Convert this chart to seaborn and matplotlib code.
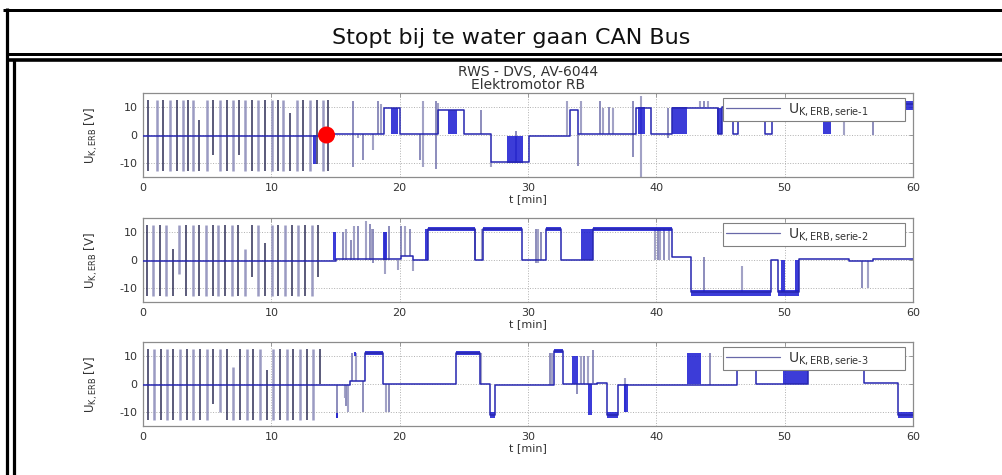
import numpy as np
import pandas as pd
import seaborn as sns
import matplotlib.pyplot as plt
from matplotlib.lines import Line2D

# ---------------- data ----------------
x_ticks = [0, 10, 20, 30, 40, 50, 60]
y_ticks = [-10, 0, 10]
series_names = ["1", "2", "3"]

# --- serie-1 ---
s1_early_t = [0.42, 1.07, 1.58, 2.10, 2.62, 3.14, 3.53, 3.92, 4.39, 4.96, 5.48, 6.00, 6.52, 7.04, 7.51,
              7.95, 8.47, 8.99, 9.51, 10.03, 10.55, 10.94, 11.46, 11.98, 12.49, 13.02, 13.54, 14.05, 14.44]
s1_early_hi = [12.5, 12.5, 12.5, 12.5, 12.5, 12.5, 12.5, 12.5, 5.5, 12.5, 12.5, 12.5, 12.5, 12.5, 12.5,
               12.5, 12.5, 12.5, 12.5, 12.5, 12.5, 12.5, 8.0, 12.5, 12.5, 12.5, 12.5, 12.5, 12.5]
s1_early_lo = [-13, -13, -13, -13, -13, -13, -13, -13, -13, -13, -7, -13, -13, -13, -7,
               -13, -13, -13, -13, -13, -13, -13, -13, -13, -13, -13, -10.5, -13, -13]
s1_level_t = [0, 14.4, 18.8, 20.0, 23.0, 25.0, 27.14, 30.05, 33.25, 33.9, 38.4, 39.6, 41.2, 44.8, 45.1,
              46.0, 46.4, 48.5, 49.0, 59.3, 60]
s1_level_v = [-0.4, 0.5, 9.8, 0.3, 9.0, 0.3, -9.5, -0.3, 9.0, 0.3, 9.5, 0.3, 9.7, 0.3, 10,
              0.3, 10, 0.3, 10, 11, 11]
s1_spike_t = [16.36, 16.75, 17.14, 17.92, 18.31, 18.57, 21.56, 21.82, 22.86, 22.99, 26.36, 27.14, 29.1,
              33.0, 33.9, 34.16, 35.58, 35.84, 36.3, 36.62, 38.2, 38.83, 40.9, 43.4, 43.7, 44.0,
              51.5, 52.4, 53.9, 54.6, 56.9]
s1_spike_hi = [12, 0.5, 0.5, 0.5, 12, 11, 0.3, 12, 12, 11.5, 9, -9.5, 1.5,
               12, 0.3, 12, 12, 9.5, 10, 9.5, 12, 14, 9.6, 12, 12, 12,
               10, 10, 10, 10, 10]
s1_spike_lo = [-11.5, -1, -9, -5.5, 0.5, 0.5, -9, -11.5, -12, 0.3, 0.3, -11.5, -10,
               0, -11, 0.3, 0.3, 0.3, 0.3, 0.3, -8, -15, -1.2, 10, 10, 10,
               6.5, 6.5, 6.5, 0, 0]
s1_band_t0 = [13.25, 19.3, 23.8, 28.4, 38.57, 41.2, 44.7, 53.0, 59.3]
s1_band_t1 = [13.45, 19.9, 24.5, 29.6, 39.1, 42.4, 45.1, 53.6, 60.0]
s1_band_lo = [-10.5, 0.3, 0.3, -10, 0.3, 0.3, 0.3, 0.3, 9]
s1_band_hi = [0, 9.8, 9, -0.5, 10, 10, 9.5, 10, 12]
marker_t = [14.3]
marker_u = [0]

# --- serie-2 ---
s2_early_t = [0.29, 0.81, 1.33, 1.79, 2.31, 2.83, 3.35, 3.87, 4.39, 4.91, 5.43, 5.87, 6.39, 6.91,
              7.43, 7.95, 8.47, 8.99, 9.51, 10.03, 10.55, 11.07, 11.59, 12.11, 12.63, 13.15, 13.67]
s2_early_hi = [12.5, 12.5, 12.5, 12.5, 4, 12.5, 12.5, 12.5, 12.5, 12.5, 12.5, 12.5, 12.5, 12.5,
               12.5, 4, 12.5, 12.5, 6, 12.5, 12.5, 12.5, 12.5, 12.5, 12.5, 12.5, 12.5]
s2_early_lo = [-13, -13, -13, -13, -13, -5, -13, -13, -13, -13, -13, -13, -13, -13,
               -13, -13, -6, -13, -13, -13, -13, -13, -13, -13, -13, -13, -6]
s2_level_t = [0, 15.06, 20.1, 21.0, 22.2, 25.84, 26.5, 29.5, 31.4, 32.6, 35.06, 41.2, 42.7, 48.9,
              49.5, 51.1, 55.0, 56.9, 60]
s2_level_v = [-0.4, 0.2, 1.5, 0, 11, 0, 11, 0, 11, 0, 11, 1, -11.6, 0,
              -11.6, 0.3, -0.3, 0.3, 0.3]
s2_spike_t = [15.58, 15.84, 16.2, 16.45, 16.75, 17.4, 17.66, 17.8, 17.9, 18.83, 19.2, 19.87, 20.13,
              20.4, 20.8, 21.04, 25.9, 26.4, 30.6, 30.8, 31.0, 39.9, 40.1, 40.3, 40.6, 41.0,
              43.7, 46.7, 56.0, 56.5]
s2_spike_hi = [10, 11, 7, 12, 12, 14, 13, 11, 11, 10, 12, 0, 12,
               12, 11, 0, 11, 11, 11, 11, 10, 11, 11, 11, 11, 11,
               1, -2, -0.3, -0.3]
s2_spike_lo = [0, 0, 0, 0, 0, 0, 0, 0, -1, -5, 0, -3.5, 1.5,
               1.5, 1.5, -4, 0, 0, -1, -1, 0, 0, 0, 0, 0, 0,
               -11.6, -11.6, -10, -10]
s2_band_t0 = [14.8, 18.7, 21.95, 22.2, 26.5, 31.4, 34.15, 35.06, 42.7, 49.5, 49.7, 50.8]
s2_band_t1 = [15.06, 19.04, 22.2, 25.84, 29.5, 32.6, 35.06, 41.2, 48.9, 51.1, 50.0, 51.1]
s2_band_lo = [0, 0, 0, 10.3, 10.3, 10.3, 0, 10.3, -12.9, -12.9, -11.6, -11.6]
s2_band_hi = [10, 10, 11, 11.9, 11.9, 11.9, 11, 11.9, -10.7, -10.7, 0, 0]

# --- serie-3 ---
s3_early_t = [0.36, 0.86, 1.38, 1.84, 2.36, 2.88, 3.40, 3.92, 4.44, 4.96, 5.48, 6.00, 6.52, 7.04,
              7.56, 8.08, 8.60, 9.12, 9.64, 10.16, 10.68, 11.20, 11.72, 12.24, 12.76, 13.28, 13.80]
s3_early_hi = [12.5, 12.5, 12.5, 12.5, 12.5, 12.5, 12.5, 12.5, 12.5, 12.5, 12.5, 12.5, 12.5, 6,
               12.5, 12.5, 12.5, 12.5, 5, 12.5, 12.5, 12.5, 12.5, 12.5, 12.5, 12.5, 12.5]
s3_early_lo = [-13, -13, -13, -13, -13, -13, -13, -13, -13, -13, -7, -10, -13, -13,
               -13, -13, -13, -13, -13, -13, -13, -13, -13, -13, -13, -13, 0]
s3_level_t = [0, 16.1, 17.27, 18.7, 24.4, 26.23, 27.0, 27.4, 32.0, 32.76, 35.4, 36.14, 37.05, 46.3,
              47.8, 51.8, 56.15, 58.87, 60]
s3_level_v = [-0.4, 1, 11, 0, 11, 0, -11, -0.3, 11.8, 0, 0.5, -11, -0.3, 10,
              0, 10, 0.5, -11, -11]
s3_spike_t = [15.1, 15.74, 15.84, 16.0, 16.3, 16.6, 17.14, 18.96, 19.2, 26.36, 31.7, 31.9, 33.8,
              34.1, 34.4, 34.7, 35.1, 37.57, 44.2]
s3_spike_hi = [-0.4, -0.4, -0.4, -0.4, 11, 11, 1, 0, 0, 11, 11, 11, 0,
               10, 10, 10, 12, 2, 11]
s3_spike_lo = [-12, -5, -8, -10, 1, 1, -10, -10, -10, 0, -0.3, -0.3, -3.5,
               0, 0, 0, 0.5, -10, -0.3]
s3_band_t0 = [15.0, 16.45, 17.27, 24.4, 27.0, 32.0, 33.4, 34.7, 36.14, 37.5, 42.4, 49.9, 58.87]
s3_band_t1 = [15.2, 16.6, 18.7, 26.23, 27.4, 32.76, 33.9, 34.97, 37.05, 37.8, 43.5, 51.8, 60.0]
s3_band_lo = [-12, 10, 10.2, 10.2, -12, 11, 0, -11, -12, -10, 0, 0, -12]
s3_band_hi = [-10.5, 11.5, 11.8, 11.8, -10, 12.6, 10, 0, -10, 0, 11, 10, -10]

series = [
    (s1_early_t, s1_early_hi, s1_early_lo, s1_level_t, s1_level_v, s1_spike_t, s1_spike_hi, s1_spike_lo,
     s1_band_t0, s1_band_t1, s1_band_lo, s1_band_hi),
    (s2_early_t, s2_early_hi, s2_early_lo, s2_level_t, s2_level_v, s2_spike_t, s2_spike_hi, s2_spike_lo,
     s2_band_t0, s2_band_t1, s2_band_lo, s2_band_hi),
    (s3_early_t, s3_early_hi, s3_early_lo, s3_level_t, s3_level_v, s3_spike_t, s3_spike_hi, s3_spike_lo,
     s3_band_t0, s3_band_t1, s3_band_lo, s3_band_hi),
]

# ---------------- style ----------------
sns.set_theme(style="white")
plt.rcParams['font.family'] = ['DejaVu Sans']
plt.rcParams['axes.unicode_minus'] = False
plt.rcParams['mathtext.fontset'] = 'custom'
plt.rcParams['mathtext.rm'] = 'DejaVu Sans'

W, H = 1002, 475
fig = plt.figure(figsize=(W / 100, H / 100), dpi=100)
fig.patch.set_facecolor('white')

def fx(px):
    return px / W

def fy(py):
    return 1 - py / H

# page frame (table borders)
frame = [
    ((3, W), (9.5, 9.5), 3.0),
    ((6.5, 6.5), (8, H), 3.2),
    ((6.5, W), (53.5, 53.5), 3.0),
    ((6.5, W), (60.3, 60.3), 3.6),
    ((13.5, 13.5), (58.5, H), 3.2),
]
for xs, ys, lw in frame:
    fig.add_artist(Line2D([fx(v) for v in xs], [fy(v) for v in ys], transform=fig.transFigure,
                          color='black', lw=lw * 0.72, solid_capstyle='butt'))

fig.text(fx(511), fy(38.5), "Stopt bij te water gaan CAN Bus", ha='center', va='center',
         fontsize=16, family='DejaVu Sans', color='#111111')

ax_tops = [93, 218, 342]
ax_h = 84
ax_left, ax_right = 143, 913

line_col = '#2626b0'
band_col = '#1a1ad2'
dark_spk = '#1c1c48'
light_spk = '#9090bc'
text_col = '#333333'

axes = []
for k, (top, data, name) in enumerate(zip(ax_tops, series, series_names)):
    (e_t, e_hi, e_lo, l_t, l_v, s_t, s_hi, s_lo, b_t0, b_t1, b_lo, b_hi) = data
    ax = fig.add_axes([fx(ax_left), fy(top + ax_h), fx(ax_right - ax_left), ax_h / H])
    axes.append(ax)
    ax.set_facecolor('white')

    # periodic switching spikes (first ~14 min)
    e_t = np.asarray(e_t)
    dark = np.arange(len(e_t)) % 2 == 0
    ax.vlines(e_t[dark], np.asarray(e_lo)[dark], np.asarray(e_hi)[dark], colors=dark_spk, lw=1.2, alpha=0.85, zorder=2)
    ax.vlines(e_t[~dark], np.asarray(e_lo)[~dark], np.asarray(e_hi)[~dark], colors=light_spk, lw=1.8, alpha=0.9, zorder=2)

    # isolated spikes
    s_t = np.asarray(s_t)
    sd = np.arange(len(s_t)) % 2 == 0
    ax.vlines(s_t[sd], np.asarray(s_lo)[sd], np.asarray(s_hi)[sd], colors='#6a6aa8', lw=1.2, alpha=0.9, zorder=2)
    ax.vlines(s_t[~sd], np.asarray(s_lo)[~sd], np.asarray(s_hi)[~sd], colors='#9898c0', lw=1.5, alpha=0.9, zorder=2)

    # dense switching blocks
    for t0, t1, lo, hi in zip(b_t0, b_t1, b_lo, b_hi):
        ax.fill_between([t0, t1], [lo, lo], [hi, hi], color=band_col, lw=0, alpha=0.85, zorder=2.5)

    if k == 0:
        sns.scatterplot(x=marker_t, y=marker_u, color='#ff0000', s=150, edgecolor='none', zorder=6,
                        ax=ax, legend=False)

    # stepped signal level
    df = pd.DataFrame({'t': l_t, 'u': l_v})
    sns.lineplot(data=df, x='t', y='u', drawstyle='steps-post', color=line_col, lw=1.1,
                 estimator=None, ax=ax, zorder=3,
                 label=r'$\mathregular{U_{K,ERB,serie\text{-}' + name + '}}$')

    ax.set_xlim(0, 60)
    ax.set_ylim(-15, 15)
    ax.set_xticks(x_ticks)
    ax.set_yticks(y_ticks)
    ax.grid(True, ls=':', color='#b0b0b0', lw=0.7)
    for sp in ax.spines.values():
        sp.set_color('#8c8c8c')
        sp.set_linewidth(0.9)
    ax.tick_params(direction='in', length=3, width=0.6, colors='#8c8c8c', labelcolor=text_col,
                   top=True, right=True, labelsize=8, pad=4)
    ax.set_xlabel('t [min]', fontsize=8, color=text_col, labelpad=1)
    ax.set_ylabel(r'$\mathregular{U_{K,ERB}}$ [V]', fontsize=8.5, color=text_col, labelpad=14)

    leg = ax.legend(loc='upper left', bbox_to_anchor=(0.753, 0.69, 0.237, 0.25), mode='expand',
                    fontsize=10, frameon=True, fancybox=False, framealpha=1, edgecolor='#808080',
                    borderpad=0.2, handlelength=3.9, handletextpad=0.6, borderaxespad=0)
    leg.get_frame().set_linewidth(0.8)
    leg.get_lines()[0].set_color('#6868a8')
    leg.get_lines()[0].set_linewidth(0.9)
    for t in leg.get_texts():
        t.set_color(text_col)

axes[0].set_title("RWS - DVS, AV-6044\nElektromotor RB", fontsize=10, color=text_col,
                  linespacing=0.85, pad=3)

fig.savefig('out.png', dpi=100, facecolor='white')
